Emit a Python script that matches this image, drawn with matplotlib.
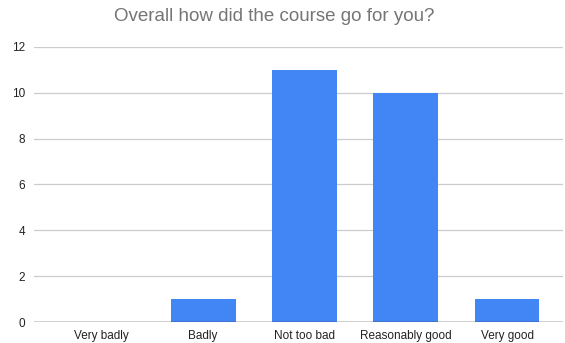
import matplotlib
matplotlib.use("Agg")
import matplotlib.pyplot as plt

plt.rcParams['font.family'] = ['Liberation Sans', 'DejaVu Sans']

categories = ["Very badly", "Badly", "Not too bad", "Reasonably good", "Very good"]
counts = [0, 1, 11, 10, 1]
yticks = [0, 2, 4, 6, 8, 10, 12]

fig = plt.figure(figsize=(5.65, 3.43), dpi=100)
ax = fig.add_axes([0.060, 0.0612, 0.936, 0.802])

x = list(range(len(categories)))
ax.bar(x, counts, width=0.64, color="#4285F4", zorder=3)

ax.set_xlim(-0.67, 4.55)
ax.set_ylim(0, 12)
ax.set_yticks(yticks)
ax.set_yticklabels([str(v) for v in yticks])
ax.set_xticks(x)
ax.set_xticklabels(categories)

ax.grid(axis="y", color="#cccccc", linewidth=0.9, zorder=0)
ax.axhline(0, color="#333333", linewidth=1.0, zorder=4)
for s in ax.spines.values():
    s.set_visible(False)
ax.tick_params(axis="both", length=0, labelsize=8.5, colors="#222222")
ax.tick_params(axis="y", pad=6.5)
ax.tick_params(axis="x", pad=6)

fig.suptitle("Overall how did the course go for you?", x=0.485, y=0.977,
             fontsize=13.5, color="#757575")

fig.savefig("out.png", dpi=100)
